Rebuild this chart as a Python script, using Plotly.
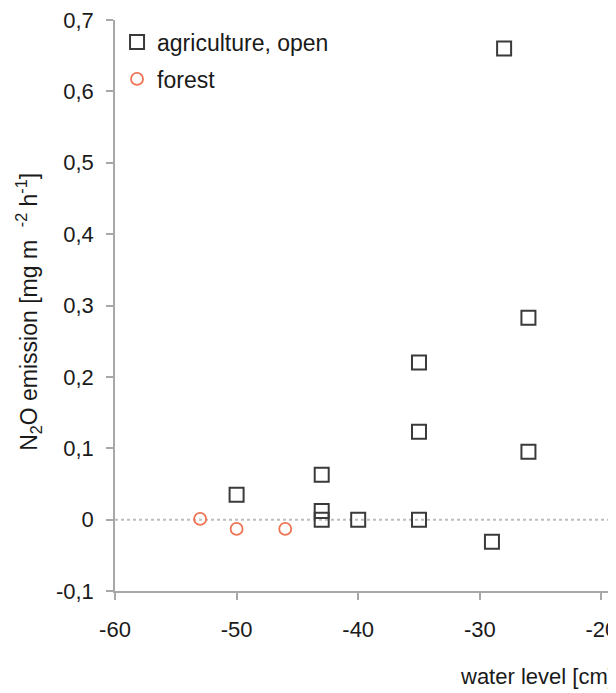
import plotly.graph_objects as go

# Data
agri_x = [-28, -35, -26, -35, -26, -50, -43, -43, -43, -40, -35, -29]
agri_y = [0.66, 0.22, 0.283, 0.123, 0.095, 0.035, 0.063, 0.012, 0.0, 0.0, 0.0, -0.031]

forest_x = [-53, -50, -46]
forest_y = [0.001, -0.013, -0.013]

x_tickvals = [-60, -50, -40, -30, -20]
x_ticktext = ["-60", "-50", "-40", "-30", "-20"]
y_tickvals = [-0.1, 0.0, 0.1, 0.2, 0.3, 0.4, 0.5, 0.6, 0.7]
y_ticktext = ["-0,1", "0", "0,1", "0,2", "0,3", "0,4", "0,5", "0,6", "0,7"]

FONT = "Liberation Sans, Arial, Helvetica, sans-serif"
AXIS_COLOR = "#a8a8a8"
TEXT_COLOR = "#1a1a1a"

fig = go.Figure()

fig.add_trace(go.Scatter(
    x=agri_x, y=agri_y, mode="markers", name="agriculture, open",
    legendgroup="a",
    marker=dict(symbol="square-open", size=14, color="#3a3a3a",
                line=dict(width=2, color="#3a3a3a")),
))
fig.add_trace(go.Scatter(
    x=forest_x, y=forest_y, mode="markers", name="forest",
    legendgroup="b",
    marker=dict(symbol="circle-open", size=12, color="#ee7454",
                line=dict(width=1.8, color="#ee7454")),
))

# dotted zero line
fig.add_shape(type="line", xref="paper", x0=0, x1=1, yref="y", y0=0, y1=0,
              line=dict(color="#bdbdbd", width=2, dash="dot"), layer="below")

fig.add_annotation(
    text="water level [cm]", xref="paper", yref="paper",
    x=0.674, y=-0.1506, xanchor="left", yanchor="middle",
    showarrow=False, font=dict(family=FONT, size=22, color=TEXT_COLOR),
)

fig.update_layout(
    width=616, height=693,
    margin=dict(l=107, r=0, t=12, b=110),
    paper_bgcolor="white", plot_bgcolor="white",
    font=dict(family=FONT, size=22, color=TEXT_COLOR),
    showlegend=True,
    legend=dict(x=0.004, y=0.999, xanchor="left", yanchor="top",
                bgcolor="rgba(0,0,0,0)", font=dict(size=23),
                tracegroupgap=4, itemwidth=30),
    xaxis=dict(range=[-60, -18.14], tickvals=x_tickvals, ticktext=x_ticktext,
               showline=True, linecolor=AXIS_COLOR, linewidth=1.5,
               ticks="outside", ticklen=7, tickcolor=AXIS_COLOR, tickwidth=1.5,
               showgrid=False, zeroline=False, ticklabelstandoff=11,
               ticklabeloverflow="allow"),
    yaxis=dict(range=[-0.1, 0.7], tickvals=y_tickvals, ticktext=y_ticktext,
               showline=True, linecolor=AXIS_COLOR, linewidth=1.5,
               ticks="outside", ticklen=7, tickcolor=AXIS_COLOR, tickwidth=1.5,
               showgrid=False, zeroline=False, ticklabelstandoff=8,
               ticklabeloverflow="allow",
               title=dict(text="N<sub>2</sub>O emission [mg m&nbsp; <sup>-2</sup> h<sup>-1</sup>]&nbsp;&nbsp;",
                          font=dict(size=23), standoff=12)),
)

fig.write_html("out.html")
